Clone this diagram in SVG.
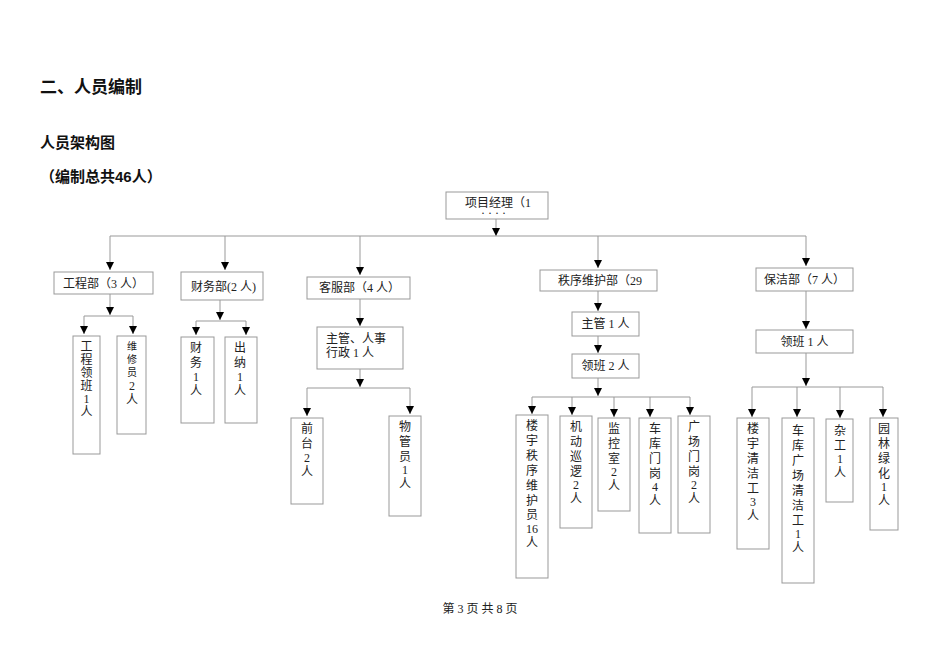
<svg xmlns="http://www.w3.org/2000/svg" width="950" height="672" viewBox="0 0 950 672">
<style>
.b{fill:#fff;stroke:#999;stroke-width:1}
.t{font-family:"Liberation Serif","Noto Sans CJK SC",serif;font-size:12px;fill:#222}
.h{font-family:"Liberation Sans","Noto Sans CJK SC",sans-serif;font-weight:bold;fill:#111}
.c{stroke:#999;stroke-width:1;fill:none}
</style>
<defs><marker id="a" markerWidth="8" markerHeight="8" refX="4" refY="8" orient="0" markerUnits="userSpaceOnUse"><path d="M0,0 L8,0 L4,8 z" fill="#000"/></marker></defs>
<rect width="950" height="672" fill="#fff"/>
<text class="h" x="40" y="93" font-size="17">二、人员编制</text>
<text class="h" x="40" y="148" font-size="15">人员架构图</text>
<text class="h" x="40" y="182" font-size="15">（编制总共46人）</text>
<g id="connectors">
<path class="c" d="M496,219V236" marker-end="url(#a)"/>
<path class="c" d="M110,236H806"/>
<path class="c" d="M110,236V270" marker-end="url(#a)"/>
<path class="c" d="M225,236V270" marker-end="url(#a)"/>
<path class="c" d="M360,236V275" marker-end="url(#a)"/>
<path class="c" d="M598,236V268" marker-end="url(#a)"/>
<path class="c" d="M806,236V266" marker-end="url(#a)"/>
<path class="c" d="M110,294V315" marker-end="url(#a)"/>
<path class="c" d="M84,316H133"/>
<path class="c" d="M84,316V334" marker-end="url(#a)"/><path class="c" d="M133,316V334" marker-end="url(#a)"/>
<path class="c" d="M220,300V320" marker-end="url(#a)"/>
<path class="c" d="M196,321H246"/>
<path class="c" d="M196,321V335" marker-end="url(#a)"/><path class="c" d="M246,321V335" marker-end="url(#a)"/>
<path class="c" d="M360,299V326" marker-end="url(#a)"/>
<path class="c" d="M360,369V387" marker-end="url(#a)"/>
<path class="c" d="M307,388H410"/>
<path class="c" d="M307,388V416" marker-end="url(#a)"/><path class="c" d="M410,388V414" marker-end="url(#a)"/>
<path class="c" d="M598,291V311" marker-end="url(#a)"/>
<path class="c" d="M598,336V353" marker-end="url(#a)"/>
<path class="c" d="M598,378V396" marker-end="url(#a)"/>
<path class="c" d="M532,397H690"/>
<path class="c" d="M532,397V414" marker-end="url(#a)"/><path class="c" d="M572,397V415" marker-end="url(#a)"/><path class="c" d="M614,397V417" marker-end="url(#a)"/><path class="c" d="M650,397V417" marker-end="url(#a)"/><path class="c" d="M690,397V415" marker-end="url(#a)"/>
<path class="c" d="M806,291V329" marker-end="url(#a)"/>
<path class="c" d="M806,353V386" marker-end="url(#a)"/>
<path class="c" d="M752,387H883"/>
<path class="c" d="M752,387V417" marker-end="url(#a)"/><path class="c" d="M797,387V417" marker-end="url(#a)"/><path class="c" d="M840,387V418" marker-end="url(#a)"/><path class="c" d="M883,387V417" marker-end="url(#a)"/>
</g>
<g id="pm"><rect class="b" x="446" y="192" width="102" height="27"/><text class="t" x="465" y="207">项目经理（1</text><text class="t" x="481" y="217" font-size="4">·  ·  ·  ·</text></g>
<g id="gcb"><rect class="b" x="54" y="272" width="99" height="22"/><text class="t" x="63" y="288">工程部（3 人）</text></g>
<g id="cwb"><rect class="b" x="181" y="272" width="82" height="28"/><text class="t" x="191" y="291">财务部(2 人)</text></g>
<g id="kfb"><rect class="b" x="307" y="277" width="103" height="22"/><text class="t" x="319" y="292">客服部（4 人）</text></g>
<g id="zxb"><rect class="b" x="540" y="270" width="117" height="21"/><text class="t" x="558" y="285">秩序维护部（29</text></g>
<g id="bjb"><rect class="b" x="756" y="268" width="97" height="23"/><text class="t" x="764" y="284">保洁部（7 人）</text></g>
<g id="gclb"><rect class="b" x="73" y="336" width="27" height="118"/><text class="t" font-size="10" text-anchor="middle"><tspan x="86.5" y="351">工</tspan><tspan x="86.5" y="364">程</tspan><tspan x="86.5" y="377">领</tspan><tspan x="86.5" y="390">班</tspan><tspan x="86.5" y="403">1</tspan><tspan x="86.5" y="416">人</tspan></text></g>
<g id="wxy"><rect class="b" x="117" y="336" width="29" height="98"/><text class="t" text-anchor="middle"><tspan x="132" y="350" font-size="10">维</tspan><tspan x="132" y="363" font-size="10">修</tspan><tspan x="132" y="376" font-size="10">员</tspan><tspan x="132" y="390">2</tspan><tspan x="132" y="404">人</tspan></text></g>
<g id="cw"><rect class="b" x="181" y="337" width="33" height="86"/><text class="t" text-anchor="middle"><tspan x="196" y="352">财</tspan><tspan x="196" y="367">务</tspan><tspan x="196" y="381">1</tspan><tspan x="196" y="395">人</tspan></text></g>
<g id="cn"><rect class="b" x="225" y="337" width="32" height="86"/><text class="t" text-anchor="middle"><tspan x="240" y="352">出</tspan><tspan x="240" y="367">纳</tspan><tspan x="240" y="381">1</tspan><tspan x="240" y="395">人</tspan></text></g>
<g id="zgrs"><rect class="b" x="317" y="327" width="86" height="42"/><text class="t"><tspan x="326" y="343">主管、人事</tspan><tspan x="326" y="357">行政 1 人</tspan></text></g>
<g id="qt"><rect class="b" x="291" y="418" width="32" height="86"/><text class="t" text-anchor="middle"><tspan x="307" y="433">前</tspan><tspan x="307" y="448">台</tspan><tspan x="307" y="462">2</tspan><tspan x="307" y="476">人</tspan></text></g>
<g id="wgy"><rect class="b" x="389" y="416" width="32" height="100"/><text class="t" text-anchor="middle"><tspan x="405" y="431">物</tspan><tspan x="405" y="446">管</tspan><tspan x="405" y="461">员</tspan><tspan x="405" y="474">1</tspan><tspan x="405" y="488">人</tspan></text></g>
<g id="zg1"><rect class="b" x="572" y="312" width="67" height="24"/><text class="t" x="605.5" y="328" text-anchor="middle">主管 1 人</text></g>
<g id="lb2"><rect class="b" x="572" y="354" width="67" height="24"/><text class="t" x="605.5" y="370" text-anchor="middle">领班 2 人</text></g>
<g id="ly"><rect class="b" x="516" y="415" width="32" height="163"/><text class="t" text-anchor="middle"><tspan x="532" y="430">楼</tspan><tspan x="532" y="445">宇</tspan><tspan x="532" y="460">秩</tspan><tspan x="532" y="475">序</tspan><tspan x="532" y="490">维</tspan><tspan x="532" y="505">护</tspan><tspan x="532" y="519">员</tspan><tspan x="532" y="533">16</tspan><tspan x="532" y="547">人</tspan></text></g>
<g id="jd"><rect class="b" x="560" y="416" width="32" height="112"/><text class="t" text-anchor="middle"><tspan x="576" y="431">机</tspan><tspan x="576" y="446">动</tspan><tspan x="576" y="461">巡</tspan><tspan x="576" y="476">逻</tspan><tspan x="576" y="489">2</tspan><tspan x="576" y="503">人</tspan></text></g>
<g id="jk"><rect class="b" x="598" y="418" width="32" height="93"/><text class="t" text-anchor="middle"><tspan x="614" y="433">监</tspan><tspan x="614" y="448">控</tspan><tspan x="614" y="463">室</tspan><tspan x="614" y="476">2</tspan><tspan x="614" y="490">人</tspan></text></g>
<g id="ck"><rect class="b" x="639" y="418" width="32" height="115"/><text class="t" text-anchor="middle"><tspan x="655" y="433">车</tspan><tspan x="655" y="448">库</tspan><tspan x="655" y="463">门</tspan><tspan x="655" y="478">岗</tspan><tspan x="655" y="491">4</tspan><tspan x="655" y="505">人</tspan></text></g>
<g id="gc"><rect class="b" x="678" y="416" width="32" height="117"/><text class="t" text-anchor="middle"><tspan x="694" y="431">广</tspan><tspan x="694" y="446">场</tspan><tspan x="694" y="461">门</tspan><tspan x="694" y="476">岗</tspan><tspan x="694" y="489">2</tspan><tspan x="694" y="503">人</tspan></text></g>
<g id="lb1"><rect class="b" x="756" y="330" width="97" height="23"/><text class="t" x="804.5" y="346" text-anchor="middle">领班 1 人</text></g>
<g id="lyqj"><rect class="b" x="737" y="418" width="32" height="131"/><text class="t" text-anchor="middle"><tspan x="753" y="433">楼</tspan><tspan x="753" y="448">宇</tspan><tspan x="753" y="463">清</tspan><tspan x="753" y="478">洁</tspan><tspan x="753" y="493">工</tspan><tspan x="753" y="506">3</tspan><tspan x="753" y="520">人</tspan></text></g>
<g id="ckqj"><rect class="b" x="782" y="418" width="32" height="165"/><text class="t" text-anchor="middle"><tspan x="798" y="435">车</tspan><tspan x="798" y="450">库</tspan><tspan x="798" y="465">广</tspan><tspan x="798" y="480">场</tspan><tspan x="798" y="495">清</tspan><tspan x="798" y="510">洁</tspan><tspan x="798" y="525">工</tspan><tspan x="798" y="538">1</tspan><tspan x="798" y="552">人</tspan></text></g>
<g id="zg"><rect class="b" x="826" y="419" width="27" height="83"/><text class="t" text-anchor="middle"><tspan x="840" y="435">杂</tspan><tspan x="840" y="450">工</tspan><tspan x="840" y="463">1</tspan><tspan x="840" y="477">人</tspan></text></g>
<g id="yl"><rect class="b" x="870" y="418" width="28" height="112"/><text class="t" text-anchor="middle"><tspan x="884" y="433">园</tspan><tspan x="884" y="448">林</tspan><tspan x="884" y="463">绿</tspan><tspan x="884" y="478">化</tspan><tspan x="884" y="491">1</tspan><tspan x="884" y="505">人</tspan></text></g>
<text class="t" x="480" y="613" font-size="10" text-anchor="middle">第 3 页 共 8 页</text>
</svg>
